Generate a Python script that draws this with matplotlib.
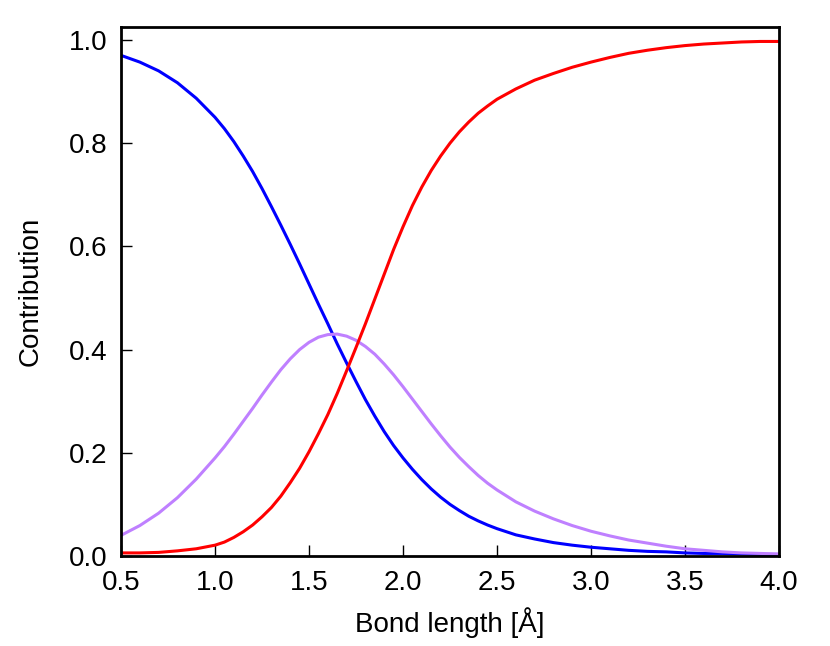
import numpy as np
import matplotlib
matplotlib.use("Agg")
import matplotlib.pyplot as plt

plt.rcParams['font.family'] = ['Liberation Sans', 'DejaVu Sans']

# bond length grid [Å] (denser where the curves bend most)
bond = [0.5, 0.6, 0.7, 0.8, 0.9,
        1.0, 1.05, 1.1, 1.15, 1.2, 1.25, 1.3, 1.35, 1.4, 1.45, 1.5, 1.55,
        1.6, 1.65, 1.7, 1.75, 1.8, 1.85, 1.9, 1.95, 2.0, 2.05, 2.1, 2.15,
        2.2, 2.25, 2.3, 2.35, 2.4, 2.45, 2.5,
        2.6, 2.7, 2.8, 2.9, 3.0, 3.1, 3.2, 3.3, 3.4, 3.5, 3.6, 3.7, 3.8,
        3.9, 4.0]

# values
blue = [0.970, 0.957, 0.940, 0.917, 0.887,
        0.850, 0.828, 0.803, 0.775, 0.745, 0.712, 0.677, 0.641, 0.604, 0.566,
        0.527, 0.488, 0.450, 0.411, 0.374, 0.338, 0.303, 0.271, 0.241, 0.214,
        0.190, 0.168, 0.148, 0.130, 0.114, 0.100, 0.088, 0.077, 0.068, 0.060,
        0.053,
        0.041, 0.033, 0.026, 0.021, 0.017, 0.014, 0.011, 0.009, 0.008, 0.006,
        0.005, 0.005, 0.004, 0.003, 0.003]
purple = [0.040, 0.059, 0.083, 0.113, 0.149,
          0.190, 0.212, 0.236, 0.261, 0.286, 0.312, 0.337, 0.361, 0.382,
          0.400, 0.414, 0.424, 0.429, 0.430, 0.426, 0.418, 0.406, 0.391,
          0.372, 0.351, 0.328, 0.304, 0.280, 0.256, 0.233, 0.211, 0.191,
          0.173, 0.156, 0.141, 0.128,
          0.105, 0.087, 0.072, 0.059, 0.048, 0.039, 0.031, 0.025, 0.019,
          0.014, 0.011, 0.008, 0.006, 0.005, 0.004]
red = [0.006, 0.006, 0.007, 0.010, 0.014,
       0.021, 0.027, 0.036, 0.047, 0.060, 0.076, 0.094, 0.116, 0.142, 0.170,
       0.202, 0.237, 0.274, 0.315, 0.359, 0.404, 0.450, 0.498, 0.546, 0.594,
       0.638, 0.679, 0.715, 0.747, 0.775, 0.800, 0.822, 0.841, 0.858, 0.872,
       0.885,
       0.905, 0.922, 0.935, 0.947, 0.957, 0.966, 0.974, 0.980, 0.985, 0.989,
       0.992, 0.994, 0.996, 0.997, 0.997]

fig = plt.figure(figsize=(8.3, 6.46), dpi=100)
ax = fig.add_axes([0.1458, 0.1393, 0.7928, 0.8189])

lw = 2.2
ax.plot(bond, blue, color='#0000ff', lw=lw, solid_joinstyle='round')
ax.plot(bond, purple, color='#bf80ff', lw=lw, solid_joinstyle='round')
ax.plot(bond, red, color='#ff0000', lw=lw, solid_joinstyle='round')

ax.set_xlim(0.5, 4.0)
ax.set_ylim(0, 1.025)
ax.set_xticks(np.arange(0.5, 4.01, 0.5))
ax.set_yticks(np.arange(0, 1.01, 0.2))
ax.xaxis.set_major_formatter(plt.FormatStrFormatter('%.1f'))
ax.yaxis.set_major_formatter(plt.FormatStrFormatter('%.1f'))
ax.tick_params(direction='in', length=8, width=1, labelsize=20, pad=10,
               top=False, right=False)

for s in ax.spines.values():
    s.set_linewidth(2)

ax.set_xlabel('Bond length [Å]', fontsize=20, labelpad=8)
ax.set_ylabel('Contribution', fontsize=20, labelpad=18)

fig.savefig('out.png', dpi=100)
